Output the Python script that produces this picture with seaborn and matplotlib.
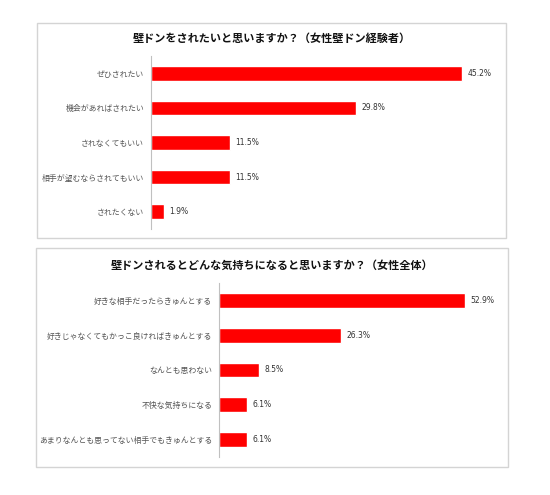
import matplotlib
matplotlib.use("Agg")
import matplotlib.pyplot as plt
import matplotlib.patheffects as pe
import seaborn as sns
import pandas as pd
from matplotlib.patches import Rectangle

# data
title1 = "壁ドンをされたいと思いますか？（女性壁ドン経験者）"
labels1 = ["ぜひされたい", "機会があればされたい", "されなくてもいい",
           "相手が望むならされてもいい", "されたくない"]
values1 = [45.2, 29.8, 11.5, 11.5, 1.9]

title2 = "壁ドンされるとどんな気持ちになると思いますか？（女性全体）"
labels2 = ["好きな相手だったらきゅんとする", "好きじゃなくてもかっこ良ければきゅんとする",
           "なんとも思わない", "不快な気持ちになる", "あまりなんとも思ってない相手でもきゅんとする"]
values2 = [52.9, 26.3, 8.5, 6.1, 6.1]

sns.set_style("white")
plt.rcParams['font.family'] = ['Noto Sans CJK JP', 'DejaVu Sans']

W, H = 550, 495
fig = plt.figure(figsize=(W / 100, H / 100), dpi=100)


def px_box(x0, y0, x1, y1):
    # pixel box (top-left origin) -> figure fraction [l, b, w, h]
    return [x0 / W, (H - y1) / H, (x1 - x0) / W, (y1 - y0) / H]


def panel(box, axbox, title, title_y, labels, values, xmax):
    l, b, w, h = px_box(*box)
    fig.patches.append(Rectangle((l, b), w, h, transform=fig.transFigure,
                                 fill=False, edgecolor="#d4d4d4", linewidth=1.0))
    fig.text(l + w / 2, 1 - title_y / H, title, ha="center", va="center",
             fontsize=8, fontweight="bold", color="#111111")

    ax = fig.add_axes(px_box(*axbox))
    df = pd.DataFrame({"label": labels, "value": values})
    sns.barplot(data=df, x="value", y="label", orient="h", color="#ff0000",
                saturation=1, width=0.42, ax=ax)
    for bar in ax.patches:
        bar.set_path_effects([pe.SimplePatchShadow(offset=(0.8, -0.8), alpha=0.25),
                              pe.Normal()])
    ax.set_xlim(0, xmax)
    ax.set_ylim(len(labels) - 0.5, -0.5)
    ax.set_xlabel("")
    ax.set_ylabel("")
    ax.set_xticks([])
    ax.tick_params(axis="y", length=0, pad=5, labelsize=5.7, labelcolor="#555555")
    for s in ["top", "right", "bottom"]:
        ax.spines[s].set_visible(False)
    ax.spines["left"].set_color("#c0c0c0")
    ax.spines["left"].set_linewidth(0.8)
    ax.patch.set_alpha(0)
    ax.bar_label(ax.containers[0], fmt="%.1f%%", padding=4, fontsize=5.5,
                 color="#333333", family="DejaVu Sans")
    return ax


panel((37, 23, 506, 238), (151, 56, 495, 229), title1, 38, labels1, values1, 50)
panel((36, 248, 508, 467), (219, 283, 498, 457), title2, 265, labels2, values2, 60)

fig.savefig("out.png", dpi=100)
